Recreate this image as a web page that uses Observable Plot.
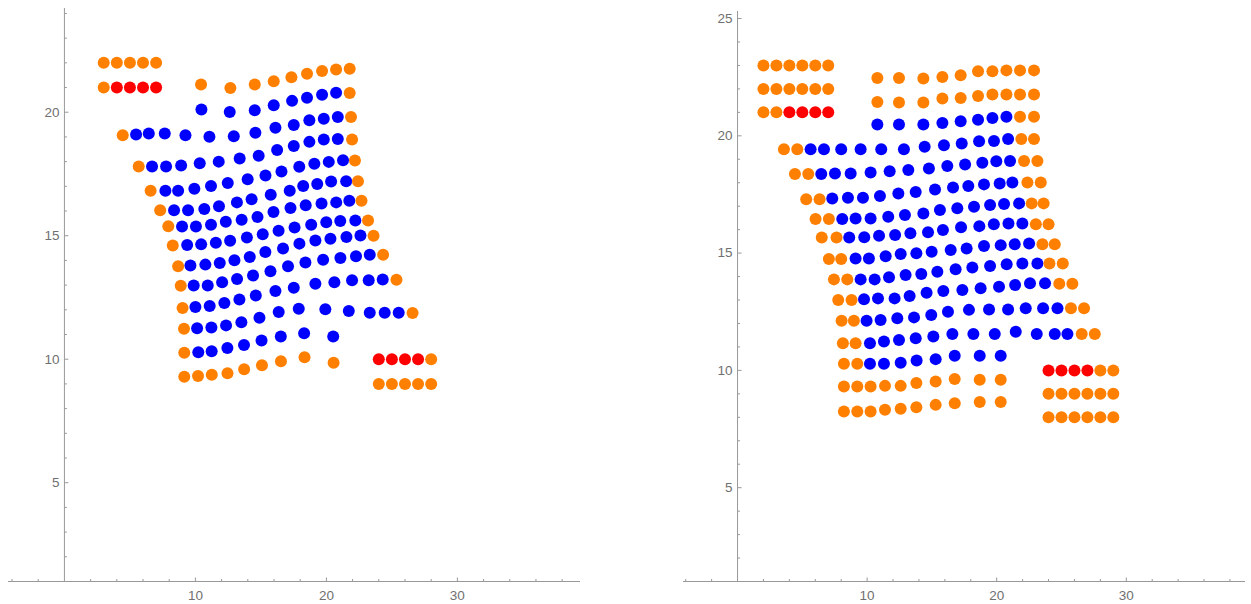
<!DOCTYPE html>
<html><head><meta charset="utf-8">
<script src="https://cdn.jsdelivr.net/npm/d3@7"></script>
<script src="https://cdn.jsdelivr.net/npm/@observablehq/plot@0.6"></script>
<style>
html,body{margin:0;padding:0;background:#fff;}
#wrap{position:relative;width:1251px;height:604px;overflow:hidden;background:#fff;}
#left{position:absolute;left:0;top:0;}
#right{position:absolute;left:680px;top:0;}
</style></head>
<body><div id="wrap"><div id="left"></div><div id="right"></div></div>
<script>
// ---------- tick positions / labels ----------
const xTickLabels = [10, 20, 30];
const xMinorTicks = [-4, -2, 2, 4, 6, 8, 12, 14, 16, 18, 22, 24, 26, 28, 32, 34, 36, 38];
const yTickLabelsLeft = [5, 10, 15, 20];
const yTickLabelsRight = [5, 10, 15, 20, 25];
const yMinorTicksLeft = [2, 3, 4, 6, 7, 8, 9, 11, 12, 13, 14, 16, 17, 18, 19, 21, 22, 23, 24];
const yMinorTicksRight = [2, 3, 4, 6, 7, 8, 9, 11, 12, 13, 14, 16, 17, 18, 19, 21, 22, 23, 24];

// ---------- left panel data ----------
const leftRed = [[4,21],[5,21],[6,21],[7,21],[24,10],[25,10],[26,10],[27,10]];
const leftOrange = [
  [3,22],[4,22],[5,22],[6,22],[7,22],[3,21],
  [10.43,21.12],[12.67,20.98],[14.53,21.12],[15.98,21.25],[17.33,21.42],[18.52,21.56],[19.67,21.67],[20.74,21.73],[21.78,21.76],
  [21.78,20.78],[21.88,19.81],[21.96,18.9],[22.18,18.05],[22.41,17.21],[22.68,16.42],[23.18,15.62],[23.6,15.0],[24.33,14.23],[25.35,13.22],[26.58,11.87],
  [4.45,19.07],[5.67,17.8],[6.58,16.82],[7.31,16.03],[7.93,15.38],[8.27,14.6],[8.68,13.76],[8.88,12.97],[9.02,12.07],[9.13,11.23],[9.15,10.26],
  [9.15,9.29],[10.2,9.32],[11.25,9.37],[12.45,9.43],[13.72,9.59],[15.08,9.76],[16.53,9.92],[18.33,10.08],[20.55,9.86],
  [28,10],[24,9],[25,9],[26,9],[27,9],[28,9]
];
const leftBlue = [
  [10.46,20.11],[12.62,20.01],[14.53,20.08],[15.98,20.28],[17.38,20.46],[18.52,20.59],[19.67,20.71],[20.74,20.79],
  [5.47,19.1],[6.44,19.14],[7.66,19.14],[9.24,19.07],[11.07,19.01],[12.93,19.03],[14.58,19.17],[16.11,19.37],[17.51,19.48],[18.7,19.68],[19.8,19.74],[20.87,19.81],
  [6.69,17.8],[7.76,17.8],[8.91,17.84],[10.33,17.93],[11.78,18.0],[13.38,18.13],[14.83,18.24],[16.24,18.47],[17.51,18.63],[18.7,18.8],[19.8,18.9],[20.87,18.92],
  [7.71,16.82],[8.68,16.82],[9.92,16.9],[11.19,17.01],[12.47,17.13],[13.99,17.29],[15.35,17.44],[16.57,17.6],[17.93,17.79],[19.08,17.91],[20.18,17.99],[21.27,18.06],
  [8.37,16.03],[9.44,16.03],[10.68,16.08],[11.8,16.19],[13.17,16.35],[14.29,16.48],[15.75,16.66],[17.2,16.82],[18.23,17.01],[19.3,17.09],[20.36,17.2],[21.51,17.21],
  [8.98,15.37],[10.04,15.37],[11.19,15.44],[12.32,15.57],[13.53,15.65],[14.74,15.76],[15.96,15.96],[17.26,16.12],[18.42,16.23],[19.63,16.3],[20.75,16.35],[21.75,16.42],
  [9.37,14.62],[10.44,14.65],[11.56,14.72],[12.65,14.8],[13.93,14.93],[15.14,15.06],[16.35,15.2],[17.57,15.33],[18.84,15.44],[19.99,15.55],[21.06,15.6],[22.21,15.62],
  [9.62,13.79],[10.76,13.83],[11.86,13.9],[12.98,14.01],[14.15,14.14],[15.34,14.34],[16.69,14.48],[17.94,14.68],[19.16,14.81],[20.31,14.88],[21.53,14.95],[22.6,15.01],
  [9.87,12.98],[10.94,12.98],[12.04,13.12],[13.18,13.25],[14.4,13.39],[15.73,13.56],[17.07,13.76],[18.4,13.92],[19.75,14.03],[21.07,14.1],[22.26,14.17],[23.31,14.23],
  [10.0,12.11],[11.09,12.15],[12.21,12.28],[13.36,12.42],[14.61,12.58],[16.11,12.76],[17.51,12.89],[19.16,13.06],[20.61,13.12],[21.96,13.2],[23.23,13.2],[24.3,13.23],
  [10.13,11.25],[11.22,11.28],[12.34,11.37],[13.51,11.5],[14.89,11.68],[16.36,11.91],[17.89,12.04],[19.92,12.02],[21.71,11.95],[23.31,11.88],[24.45,11.88],[25.52,11.88],
  [10.22,10.28],[11.24,10.32],[12.44,10.45],[13.71,10.58],[15.05,10.76],[16.52,10.92],[18.3,11.05],[20.52,10.92]
];

// ---------- right panel data ----------
const rightRed = [[4,21],[5,21],[6,21],[7,21],[24,10],[25,10],[26,10],[27,10]];
const rightOrange = [
  [2,23],[3,23],[4,23],[5,23],[6,23],[7,23],[2,22],[3,22],[4,22],[5,22],[6,22],[7,22],[2,21],[3,21],
  [28,10],[29,10],[24,9],[25,9],[26,9],[27,9],[28,9],[29,9],[24,8],[25,8],[26,8],[27,8],[28,8],[29,8],
  [10.79,22.47],[12.46,22.47],[14.34,22.44],[15.81,22.51],[17.22,22.58],[18.56,22.75],[19.67,22.75],[20.75,22.79],[21.8,22.79],[22.88,22.79],
  [10.79,21.44],[12.46,21.42],[14.34,21.42],[15.81,21.59],[17.22,21.61],[18.56,21.7],[19.67,21.76],[20.75,21.76],[21.8,21.76],[22.88,21.76],
  [21.8,20.81],[22.88,20.81],
  [3.58,19.43],[4.61,19.43],[21.9,19.86],[22.88,19.86],
  [4.43,18.37],[5.46,18.37],[22.11,18.93],[23.14,18.93],
  [5.3,17.3],[6.33,17.3],[22.37,18.01],[23.4,18.01],
  [6.02,16.45],[7.05,16.45],[22.7,17.12],[23.62,17.12],
  [6.5,15.67],[7.64,15.67],[23.02,16.23],[24.0,16.23],
  [7.05,14.75],[8.0,14.75],[23.53,15.38],[24.48,15.38],
  [7.44,13.88],[8.47,13.88],[24.07,14.56],[25.1,14.56],
  [7.77,13.0],[8.8,13.0],[24.83,13.69],[25.84,13.69],
  [8.03,12.12],[8.98,12.12],[25.73,12.65],[26.74,12.65],
  [8.13,11.16],[9.11,11.16],[26.56,11.55],[27.57,11.55],
  [8.21,10.28],[9.24,10.28],
  [8.21,9.31],[9.24,9.31],[10.27,9.31],[11.38,9.34],[12.59,9.34],[13.8,9.46],[15.29,9.53],[16.76,9.63],[18.69,9.6],[20.31,9.6],
  [8.21,8.25],[9.24,8.25],[10.27,8.25],[11.38,8.32],[12.59,8.36],[13.8,8.43],[15.29,8.53],[16.76,8.6],[18.69,8.65],[20.31,8.65]
];
const rightBlue = [
  [10.79,20.48],[12.46,20.48],[14.34,20.48],[15.81,20.55],[17.22,20.62],[18.56,20.69],[19.67,20.76],[20.75,20.81],
  [5.64,19.43],[6.67,19.43],[8.0,19.43],[9.5,19.43],[11.09,19.43],[12.84,19.43],[14.44,19.53],[15.93,19.6],[17.3,19.67],[18.64,19.77],[19.79,19.78],[20.88,19.86],
  [6.46,18.37],[7.52,18.39],[8.73,18.39],[10.27,18.44],[11.74,18.49],[13.18,18.54],[14.77,18.61],[16.19,18.71],[17.56,18.78],[18.89,18.85],[19.97,18.92],[21.03,18.93],
  [7.31,17.33],[8.52,17.36],[9.68,17.36],[10.99,17.43],[12.41,17.54],[13.75,17.61],[15.24,17.71],[16.63,17.8],[17.81,17.86],[19.02,17.93],[20.23,17.97],[21.21,18.01],
  [8.08,16.45],[9.11,16.48],[10.27,16.48],[11.63,16.55],[12.92,16.62],[14.34,16.69],[15.62,16.84],[16.96,16.91],[18.25,16.98],[19.49,17.05],[20.57,17.09],[21.73,17.12],
  [8.62,15.67],[9.78,15.68],[10.92,15.74],[12.16,15.77],[13.34,15.85],[14.7,15.89],[15.85,15.98],[17.25,16.1],[18.66,16.15],[19.78,16.23],[20.91,16.26],[21.98,16.26],
  [9.11,14.77],[10.14,14.77],[11.43,14.87],[12.59,14.96],[13.8,14.99],[14.98,15.06],[16.45,15.13],[17.68,15.2],[19.02,15.3],[20.31,15.34],[21.39,15.38],[22.5,15.41],
  [9.5,13.88],[10.58,13.88],[11.69,13.97],[12.97,14.07],[14.18,14.11],[15.42,14.21],[16.83,14.31],[18.12,14.39],[19.49,14.45],[20.77,14.52],[21.98,14.56],[23.14,14.56],
  [9.76,13.03],[10.84,13.07],[12.12,13.07],[13.28,13.17],[14.59,13.31],[15.88,13.38],[17.35,13.43],[18.76,13.5],[20.18,13.57],[21.42,13.64],[22.57,13.71],[23.73,13.71],
  [9.96,12.12],[11.04,12.15],[12.33,12.22],[13.62,12.26],[14.95,12.36],[16.24,12.5],[17.86,12.58],[19.41,12.6],[20.88,12.6],[22.24,12.65],[23.58,12.65],[24.69,12.65],
  [10.22,11.16],[11.3,11.23],[12.46,11.3],[13.75,11.37],[15.11,11.44],[16.58,11.55],[18.2,11.55],[19.85,11.55],[21.47,11.65],[23.09,11.55],[24.48,11.55],[25.46,11.55],
  [10.22,10.28],[11.3,10.28],[12.59,10.33],[13.82,10.42],[15.29,10.48],[16.76,10.62],[18.69,10.62],[20.31,10.62]
];

// ---------- styling ----------
const BLUE = "#0000ff", ORANGE = "#ff8000", RED = "#ff0000";
const AXIS = "#999999", LABEL = "#707070";
const R = 6;
const seg = (dx, dy) => ({draw(ctx) { ctx.moveTo(0, 0); ctx.lineTo(dx, dy); }});
const upMajor = seg(0, -4), upMinor = seg(0, -2.5), rightMajor = seg(4, 0), rightMinor = seg(2.5, 0);

function panel(cfg) {
  const {width, marginLeft, marginRight, marginTop, marginBottom, xDomain, yDomain, blue, orange, red, yLabels, yMinor} = cfg;
  const yBase = yDomain[0];
  return Plot.plot({
    width, height: 604, marginLeft, marginRight, marginTop, marginBottom,
    style: {fontFamily: "'Liberation Sans', Arial, sans-serif", background: "white"},
    x: {domain: xDomain, axis: null},
    y: {domain: yDomain, axis: null},
    marks: [
      Plot.ruleX([0], {stroke: AXIS, strokeWidth: 1}),
      Plot.ruleY([yBase], {stroke: AXIS, strokeWidth: 1}),
      Plot.dot(xMinorTicks, {x: d => d, y: () => yBase, symbol: upMinor, stroke: AXIS, fill: "none", strokeWidth: 1}),
      Plot.dot(xTickLabels, {x: d => d, y: () => yBase, symbol: upMajor, stroke: AXIS, fill: "none", strokeWidth: 1}),
      Plot.dot(yMinor, {x: () => 0, y: d => d, symbol: rightMinor, stroke: AXIS, fill: "none", strokeWidth: 1}),
      Plot.dot(yLabels, {x: () => 0, y: d => d, symbol: rightMajor, stroke: AXIS, fill: "none", strokeWidth: 1}),
      Plot.text(yLabels, {x: () => 0, y: d => d, text: d => String(d), textAnchor: "end", dx: -5, fill: LABEL, fontSize: 13.5}),
      Plot.text(xTickLabels, {x: d => d, y: () => yBase, text: d => String(d), dy: 14, fill: LABEL, fontSize: 13.5}),
      Plot.dot(blue, {x: d => d[0], y: d => d[1], r: R, fill: BLUE}),
      Plot.dot(orange, {x: d => d[0], y: d => d[1], r: R, fill: ORANGE}),
      Plot.dot(red, {x: d => d[0], y: d => d[1], r: R, fill: RED})
    ]
  });
}

document.getElementById("left").appendChild(panel({
  width: 620, marginLeft: 8, marginRight: 40, marginTop: 8, marginBottom: 23,
  xDomain: [-4.27, 39.4], yDomain: [1, 24.2],
  blue: leftBlue, orange: leftOrange, red: leftRed,
  yLabels: yTickLabelsLeft, yMinor: yMinorTicksLeft
}));
document.getElementById("right").appendChild(panel({
  width: 571, marginLeft: 3, marginRight: 6, marginTop: 11, marginBottom: 23,
  xDomain: [-4.17, 39.2], yDomain: [1, 25.3],
  blue: rightBlue, orange: rightOrange, red: rightRed,
  yLabels: yTickLabelsRight, yMinor: yMinorTicksRight
}));
</script>
</body></html>
